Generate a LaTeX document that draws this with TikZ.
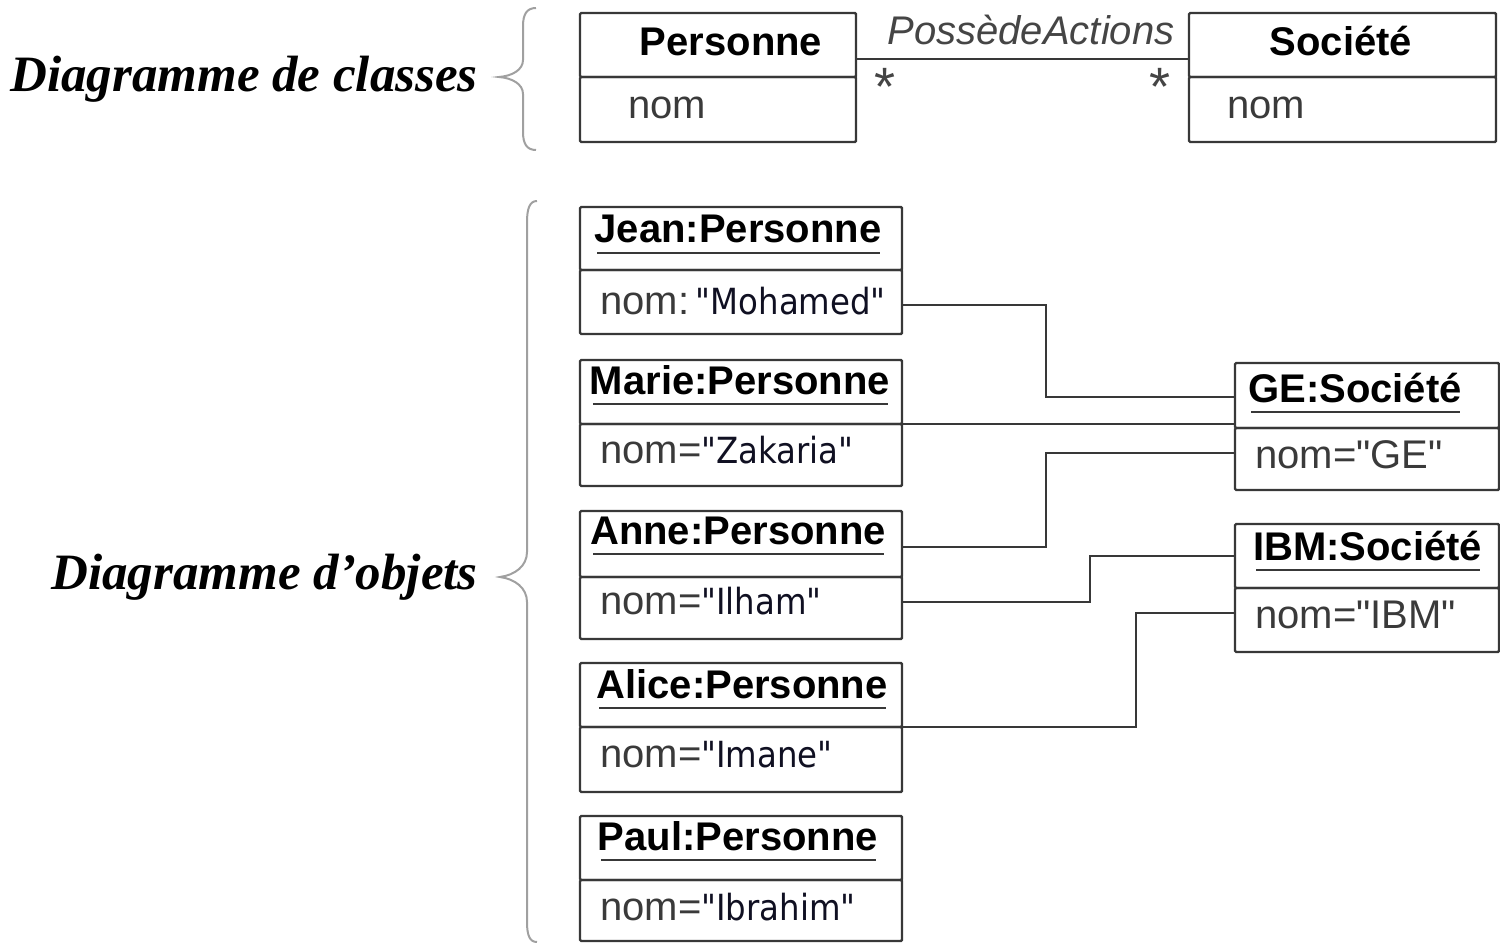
\documentclass[tikz,border=0pt]{standalone}
\usepackage{fontspec}
\newfontfamily\umlfont{Liberation Sans}
\newfontfamily\valfont[FakeStretch=0.9]{DejaVu Sans}
\newfontfamily\sidefont{Liberation Serif}
\usetikzlibrary{calc}

\definecolor{edge}{HTML}{383838}
\definecolor{attrc}{HTML}{3A3A3A}
\definecolor{valc}{HTML}{101022}
\definecolor{bracec}{HTML}{A0A0A0}
\definecolor{assoc}{HTML}{454545}

\tikzset{
  cell/.style={draw=edge, line width=2.4pt, rectangle, rounded corners=1.2pt,
    inner sep=0pt, outer sep=0pt, anchor=north west},
  clstitle/.style={font={\umlfont\bfseries\fontsize{40}{44}\selectfont}, text=black,
    inner sep=0pt, anchor=base},
  objtitle/.style={font={\umlfont\bfseries\fontsize{40}{44}\selectfont}, text=black,
    inner sep=0pt, anchor=base},
  attrtext/.style={font={\umlfont\fontsize{40}{44}\selectfont}, text=attrc,
    inner sep=0pt, anchor=base west},
  assoctext/.style={font={\umlfont\itshape\fontsize{40}{44}\selectfont}, text=assoc,
    inner sep=0pt, anchor=base},
  multtext/.style={font={\umlfont\fontsize{54}{58}\selectfont}, text=assoc,
    inner sep=0pt, anchor=base},
  sidetext/.style={font={\sidefont\bfseries\itshape\fontsize{51}{55}\selectfont},
    text=black, inner sep=0pt, anchor=base east},
  uline/.style={draw=edge, line width=2pt},
  wire/.style={draw=edge, line width=2.2pt},
  bracepen/.style={draw=bracec, line width=2pt},
}
\newcommand{\val}[1]{{\valfont\fontsize{36}{40}\selectfont\color{valc}#1}}

\begin{document}
\begin{tikzpicture}[x=1pt, y=-1pt]
\useasboundingbox (0,0) rectangle (1500,944);

% ---------- side labels and braces ----------
\node[sidetext] (lblcls) at (478,92) {Diagramme de classes};
\node[sidetext] (lblobj) at (478,589) {Diagramme d’objets};

\draw[bracepen] (536,8) .. controls (527,8) and (523,14) .. (523,26) -- (523,60)
  .. controls (523,70) and (512,76) .. (499,77)
  .. controls (512,78) and (523,84) .. (523,94) -- (523,132)
  .. controls (523,144) and (527,150) .. (536,150);

\draw[bracepen] (537,201) .. controls (530,201) and (527,208) .. (527,222) -- (527,552)
  .. controls (527,566) and (515,575) .. (500,577)
  .. controls (515,579) and (527,588) .. (527,602) -- (527,922)
  .. controls (527,936) and (530,942) .. (537,942);

% ---------- class diagram ----------
\node[cell, minimum width=276pt, minimum height=64pt] (persT) at (580,13) {};
\node[cell, minimum width=276pt, minimum height=65pt] (persA) at (persT.south west) {};
\node[clstitle] (persN) at (731,56) {Personne};
\node[attrtext] (persV) at (628,119) {nom};

\node[cell, minimum width=307pt, minimum height=64pt] (socT) at (1189,13) {};
\node[cell, minimum width=307pt, minimum height=65pt] (socA) at (socT.south west) {};
\node[clstitle] (socN) at (1341,56) {Société};
\node[attrtext] (socV) at (1227,119) {nom};

\draw[wire] ([yshift=-14pt]persT.east) -- ([yshift=-14pt]socT.west);
\node[assoctext] (assocN) at (1031,45) {PossèdeActions};
\node[multtext] (multL) at (885,106) {*};
\node[multtext] (multR) at (1160,106) {*};

% ---------- object diagram: persons ----------
\node[cell, minimum width=322pt, minimum height=63pt] (jeanT) at (580,207) {};
\node[cell, minimum width=322pt, minimum height=64pt] (jeanA) at (jeanT.south west) {};
\node[cell, minimum width=322pt, minimum height=64pt] (marieT) at (580,360) {};
\node[cell, minimum width=322pt, minimum height=62pt] (marieA) at (marieT.south west) {};
\node[cell, minimum width=322pt, minimum height=66pt] (anneT) at (580,511) {};
\node[cell, minimum width=322pt, minimum height=62pt] (anneA) at (anneT.south west) {};
\node[cell, minimum width=322pt, minimum height=64pt] (aliceT) at (580,663) {};
\node[cell, minimum width=322pt, minimum height=65pt] (aliceA) at (aliceT.south west) {};
\node[cell, minimum width=322pt, minimum height=64pt] (paulT) at (580,816) {};
\node[cell, minimum width=322pt, minimum height=61pt] (paulA) at (paulT.south west) {};

\node[objtitle] (jeanN) at (738,243) {Jean:Personne};
\node[objtitle] (marieN) at (740,394) {Marie:Personne};
\node[objtitle] (anneN) at (738,544) {Anne:Personne};
\node[objtitle] (aliceN) at (742,698) {Alice:Personne};
\node[objtitle] (paulN) at (738,850) {Paul:Personne};
\foreach \n in {jeanN,marieN,anneN,aliceN,paulN}
  \draw[uline] ($(\n.base west)+(3,10)$) -- ($(\n.base east)+(-2,10)$);

\node[attrtext] (jeanV) at (600,314) {nom:\,\val{"Mohamed"}};
\node[attrtext] (marieV) at (600,463) {nom=\val{"Zakaria"}};
\node[attrtext] (anneV) at (600,614) {nom=\val{"Ilham"}};
\node[attrtext] (aliceV) at (600,767) {nom=\val{"Imane"}};
\node[attrtext] (paulV) at (600,920) {nom=\val{"Ibrahim"}};

% ---------- object diagram: companies ----------
\node[cell, minimum width=264pt, minimum height=65pt] (geT) at (1235,363) {};
\node[cell, minimum width=264pt, minimum height=62pt] (geA) at (geT.south west) {};
\node[cell, minimum width=264pt, minimum height=64pt] (ibmT) at (1235,524) {};
\node[cell, minimum width=264pt, minimum height=64pt] (ibmA) at (ibmT.south west) {};

\node[objtitle, anchor=base west] (geN) at (1248,402) {GE:Société};
\node[objtitle, anchor=base west] (ibmN) at (1253,560) {IBM:Société};
\foreach \n in {geN,ibmN}
  \draw[uline] ($(\n.base west)+(3,10)$) -- ($(\n.base east)+(-2,10)$);

\node[attrtext] (geV) at (1255,468) {nom="GE"};
\node[attrtext] (ibmV) at (1255,628) {nom="IBM"};

% ---------- links ----------
\coordinate (bendA) at (1046,0);
\coordinate (bendB) at (1090,0);
\coordinate (bendC) at (1136,0);

\coordinate (jeanOut) at ([yshift=-3pt]jeanA.east);
\coordinate (geIn1) at ([yshift=-1.5pt]geT.west);
\draw[wire] (jeanOut) -| (bendA |- geIn1) -- (geIn1);

\draw[wire] (marieT.south east) -- (marieT.south east -| geT.west);

\coordinate (anneOut1) at ([yshift=-3pt]anneT.east);
\coordinate (geIn2) at ([yshift=6pt]geA.west);
\draw[wire] (anneOut1) -| (bendA |- geIn2) -- (geIn2);

\coordinate (anneOut2) at ([yshift=6pt]anneA.east);
\draw[wire] (anneOut2) -| (bendB |- ibmT.west) -- (ibmT.west);

\coordinate (ibmIn) at ([yshift=7pt]ibmA.west);
\draw[wire] (aliceT.south east) -| (bendC |- ibmIn) -- (ibmIn);
\end{tikzpicture}
\end{document}
